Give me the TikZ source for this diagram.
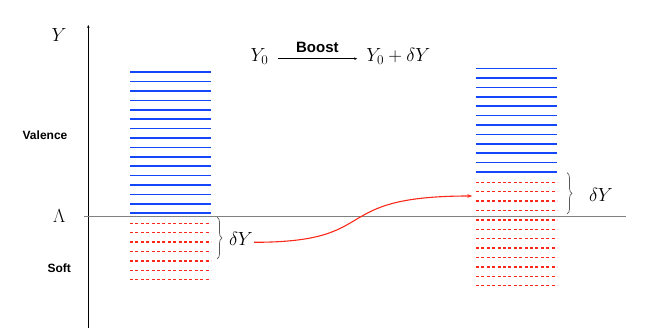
\documentclass[tikz,border=0pt]{standalone}
\usepackage{fix-cm}
\usepackage{fontspec}
\newfontfamily\labelfont{Liberation Sans}
\usetikzlibrary{decorations.pathreplacing,arrows.meta}
\definecolor{valblue}{RGB}{20,70,250}
\definecolor{softred}{RGB}{250,40,25}

\begin{document}
\begin{tikzpicture}[x=1pt, y=1pt,
  mathlbl/.style={font=\fontsize{19}{22}\selectfont, inner sep=1pt},
  sidelbl/.style={font=\labelfont\bfseries\fontsize{12}{14}\selectfont},
  boostlbl/.style={font=\labelfont\bfseries\fontsize{15}{17}\selectfont, inner sep=0pt},
  valence/.style={valblue, line width=1.6pt},
  softlvl/.style={softred, line width=1.3pt, dash pattern=on 3pt off 2.4pt},
  gapbrace/.style={gray!70!black, line width=0.7pt, decorate, decoration={brace, amplitude=5pt}}
]
\useasboundingbox (0,0) rectangle (654,332);
% Achse und Schwelle
\coordinate (axb) at (88.3,4);
\coordinate (axt) at (88.3,307);
\draw[line width=0.8pt, -{Stealth[length=3pt,width=2.5pt]}] (axb) -- (axt);
\coordinate (lamL) at (84,115.7);
\coordinate (lamR) at (626,115.7);
\draw[gray, line width=0.6pt] (lamL) -- (lamR);
\node[mathlbl] (Ylab) at (59,297) {$Y$};
\node[mathlbl] (Lam) at (59.3,115.5) {$\Lambda$};
\node[sidelbl] (val) at (45,196.3) {Valence};
\node[sidelbl] (softlbl) at (59.2,63.7) {Soft};
% Linke Saeule
\foreach \k in {0,...,15} \draw[valence] (130,118.7+9.4*\k) -- (211,118.7+9.4*\k);
\foreach \k in {0,...,6} \draw[softlvl] (130,108.7-9.4*\k) -- (211,108.7-9.4*\k);
% Rechte Saeule
\foreach \k in {0,...,11} \draw[valence] (476,160+9.4*\k) -- (557,160+9.4*\k);
\foreach \k in {0,...,11} \draw[softlvl] (476,149.7-9.4*\k) -- (557,149.7-9.4*\k);
% Klammern
\coordinate (bLt) at (217,115);
\coordinate (bLb) at (217,73);
\draw[gapbrace] (bLt) -- (bLb);
\node[mathlbl, anchor=base] (dYL) at (241,86) {$\delta Y$};
\coordinate (bRt) at (567,159.3);
\coordinate (bRb) at (567,118);
\draw[gapbrace] (bRt) -- (bRb);
\node[mathlbl, anchor=base] (dYR) at (601,130.3) {$\delta Y$};
% Verschiebung
\coordinate (arrEnd) at (472.3,136);
\draw[softred, line width=1.1pt, -{Stealth[length=5pt,width=3.5pt]}] ([yshift=3.7pt]dYL.base east) .. controls (385,89.7) and (325,136) .. (arrEnd);
% Boost
\node[mathlbl, anchor=base] (Y0) at (259.5,270.3) {$Y_0$};
\node[mathlbl, anchor=base] (Y1) at (398.3,270.3) {$Y_0+\delta Y$};
\draw[line width=0.6pt, -{Stealth[length=3pt,width=2.5pt]}] ([xshift=8pt,yshift=3pt]Y0.base east) -- node[above=6pt, boostlbl] {Boost} ([xshift=-8pt,yshift=3pt]Y1.base west);
\end{tikzpicture}
\end{document}
